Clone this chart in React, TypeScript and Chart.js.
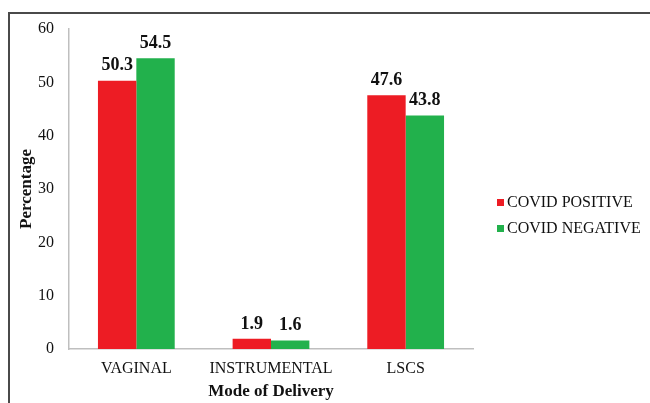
import React, { useEffect, useRef } from "react";
import { Chart, registerables } from "chart.js";

Chart.register(...registerables);

const categories = ["VAGINAL", "INSTRUMENTAL", "LSCS"];
const covidPositive = [50.3, 1.9, 47.6];
const covidNegative = [54.5, 1.6, 43.8];
const seriesLabels = ["COVID POSITIVE", "COVID NEGATIVE"];
const seriesColors = ["#ED1C24", "#22B14C"];

const FONT = "'Liberation Serif', 'Times New Roman', serif";

const dataLabelPlugin = {
  id: "dataLabels",
  afterDatasetsDraw(chart: any) {
    const ctx = chart.ctx;
    ctx.save();
    ctx.font = `bold 18px ${FONT}`;
    ctx.fillStyle = "#111";
    ctx.textAlign = "center";
    ctx.textBaseline = "middle";
    chart.data.datasets.forEach((ds: any, di: number) => {
      const meta = chart.getDatasetMeta(di);
      meta.data.forEach((bar: any, i: number) => {
        ctx.fillText(String(ds.data[i]), bar.x, bar.y - 15);
      });
    });
    ctx.restore();
  },
};

const legendPlugin = {
  id: "customLegend",
  afterDraw(chart: any) {
    const ctx = chart.ctx;
    ctx.save();
    ctx.font = `16px ${FONT}`;
    ctx.textBaseline = "middle";
    ctx.textAlign = "left";
    const x0 = chart.chartArea.right + 24;
    const y0 = 203;
    chart.data.datasets.forEach((ds: any, i: number) => {
      const y = y0 + i * 26;
      ctx.fillStyle = ds.backgroundColor;
      ctx.fillRect(x0, y - 4, 7, 7);
      ctx.fillStyle = "#111";
      ctx.fillText(ds.label, x0 + 10, y);
    });
    ctx.restore();
  },
};

export default function App() {
  const canvasRef = useRef<HTMLCanvasElement | null>(null);

  useEffect(() => {
    if (!canvasRef.current) return;
    const chart = new Chart(canvasRef.current, {
      type: "bar",
      data: {
        labels: categories,
        datasets: [
          { label: seriesLabels[0], data: covidPositive, backgroundColor: seriesColors[0] },
          { label: seriesLabels[1], data: covidNegative, backgroundColor: seriesColors[1] },
        ],
      },
      options: {
        animation: false,
        responsive: false,
        maintainAspectRatio: false,
        layout: { padding: { left: 0, right: 177, top: 29, bottom: 0 } },
        plugins: {
          legend: { display: false },
          tooltip: { enabled: false },
        },
        datasets: {
          bar: { barPercentage: 1, categoryPercentage: 0.57 },
        },
        scales: {
          x: {
            grid: { display: false },
            border: { display: true, color: "#bfbfbf", width: 1.5 },
            ticks: { color: "#111", font: { family: FONT, size: 16 }, padding: 2, maxRotation: 0 },
            title: {
              display: true,
              text: "Mode of Delivery",
              color: "#111",
              font: { family: FONT, size: 17, weight: "bold" },
              padding: { top: 0, bottom: 1 },
            },
            afterFit: (scale: any) => {
              scale.height = 54;
            },
          },
          y: {
            min: 0,
            max: 60,
            grid: { display: false },
            border: { display: true, color: "#bfbfbf", width: 1.5 },
            ticks: { stepSize: 10, color: "#111", font: { family: FONT, size: 16 }, padding: 7 },
            title: {
              display: true,
              text: "Percentage",
              color: "#111",
              font: { family: FONT, size: 17, weight: "bold" },
              padding: { top: 16, bottom: 0 },
            },
            afterFit: (scale: any) => {
              scale.width = 69;
            },
          },
        },
      } as any,
      plugins: [dataLabelPlugin, legendPlugin],
    });
    return () => chart.destroy();
  }, []);

  return (
    <div
      style={{
        position: "absolute",
        left: 0,
        top: 0,
        width: 650,
        height: 403,
        overflow: "hidden",
        background: "#fff",
      }}
    >
      <div
        style={{
          position: "absolute",
          left: 8,
          top: 12,
          width: 800,
          height: 600,
          borderLeft: "2px solid #4a4a4a",
          borderTop: "2px solid #4a4a4a",
        }}
      />
      <canvas
        ref={canvasRef}
        width={650}
        height={403}
        style={{ position: "absolute", left: 0, top: 0, width: 650, height: 403 }}
      />
    </div>
  );
}
